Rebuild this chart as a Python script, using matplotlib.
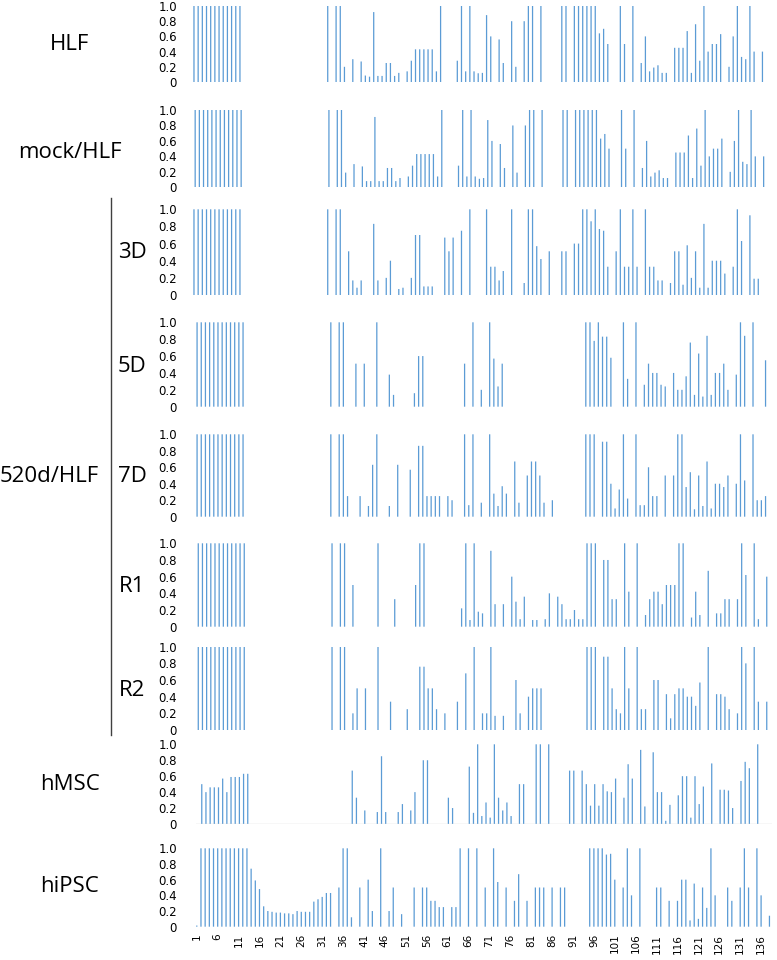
import matplotlib
matplotlib.use("Agg")
import matplotlib.pyplot as plt

# ---- data: bar positions (1..138) and heights, one pair of lists per sample ----
first_block = list(range(2, 14))

hlf_pos = first_block + [34, 36, 37, 38, 40, 42, 43, 44, 45, 46, 47, 48, 49, 50, 51, 53, 54, 55, 56, 57, 58, 59, 60, 61,
                         65, 66, 67, 68, 69, 70, 71, 72, 73, 75, 76, 78, 79, 81, 82, 83, 85, 90, 91, 93, 94, 95, 96, 97,
                         98, 99, 100, 101, 104, 105, 107, 109, 110, 111, 112, 113, 114, 115, 117, 118, 119, 120, 121,
                         122, 123, 124, 125, 126, 127, 128, 130, 131, 132, 133, 134, 135, 136, 138]
hlf_val = [1.0] * 12 + [1.0, 1.0, 1.0, 0.2, 0.3, 0.27, 0.085, 0.07, 0.92, 0.08, 0.08, 0.25, 0.25, 0.08, 0.12, 0.14, 0.28,
                        0.43, 0.43, 0.43, 0.43, 0.43, 0.14, 1.0,
                        0.28, 1.0, 0.14, 1.0, 0.14, 0.115, 0.12, 0.88, 0.6, 0.56, 0.25, 0.8, 0.2, 0.8, 1.0, 1.0, 1.0,
                        1.0, 1.0, 1.0, 1.0, 1.0, 1.0, 1.0,
                        1.0, 0.64, 0.7, 0.5, 1.0, 0.5, 1.0, 0.25, 0.6, 0.14, 0.19, 0.22, 0.12, 0.12, 0.45, 0.45, 0.45,
                        0.67, 0.12,
                        0.76, 0.28, 1.0, 0.4, 0.5, 0.5, 0.63, 0.2, 0.6, 1.0, 0.33, 0.3, 1.0, 0.4, 0.4]

mock_pos = first_block + [34, 36, 37, 38, 40, 42, 43, 44, 45, 46, 47, 48, 49, 50, 51, 53, 54, 55, 56, 57, 58, 59, 60, 61,
                          65, 66, 67, 68, 69, 70, 71, 72, 73, 75, 76, 78, 79, 81, 82, 83, 85, 90, 91, 93, 94, 95, 96, 97,
                          98, 99, 100, 101, 104, 105, 107, 109, 110, 111, 112, 113, 114, 115, 117, 118, 119, 120, 121,
                          122, 123, 124, 125, 126, 127, 128, 130, 131, 132, 133, 134, 135, 136, 138]
mock_val = [1.0] * 12 + [1.0, 1.0, 1.0, 0.19, 0.3, 0.27, 0.08, 0.08, 0.91, 0.08, 0.08, 0.25, 0.25, 0.08, 0.12, 0.14, 0.28,
                         0.43, 0.43, 0.43, 0.43, 0.43, 0.14, 1.0,
                         0.28, 1.0, 0.14, 1.0, 0.14, 0.11, 0.12, 0.87, 0.6, 0.56, 0.25, 0.8, 0.19, 0.8, 1.0, 1.0, 1.0,
                         1.0, 1.0, 1.0, 1.0, 1.0, 1.0, 1.0,
                         1.0, 0.63, 0.69, 0.5, 1.0, 0.5, 1.0, 0.25, 0.6, 0.14, 0.19, 0.22, 0.12, 0.12, 0.45, 0.45, 0.45,
                         0.67, 0.12,
                         0.76, 0.28, 1.0, 0.4, 0.5, 0.5, 0.63, 0.2, 0.6, 1.0, 0.33, 0.3, 1.0, 0.4, 0.4]

d3_pos = first_block + [34, 36, 37, 39, 40, 41, 42, 45, 46, 48, 49, 51, 52, 54, 55, 56, 57, 58, 59, 62, 63, 64, 66, 68,
                        72, 73, 74, 75, 76, 78, 81, 82, 83, 84, 85, 87, 90, 91, 93, 94, 95, 96, 97, 98, 99, 100, 101,
                        103, 104, 105, 106, 107, 108, 110, 111, 112, 113, 114, 116, 117, 118, 119, 120, 121, 122, 123,
                        124, 125, 126, 127, 128, 129, 131, 132, 133, 135, 136, 137]
d3_val = [1.0] * 12 + [1.0, 1.0, 1.0, 0.51, 0.17, 0.085, 0.17, 0.83, 0.17, 0.2, 0.4, 0.07, 0.085, 0.2, 0.7, 0.7, 0.1, 0.1,
                       0.1, 0.67, 0.51, 0.67, 0.75, 1.0,
                       1.0, 0.33, 0.33, 0.17, 0.28, 1.0, 0.14, 1.0, 1.0, 0.57, 0.42, 0.51, 0.51, 0.51, 0.6, 0.6, 1.0,
                       1.0, 0.86, 1.0, 0.77, 0.75, 0.33,
                       0.51, 1.0, 0.33, 0.33, 1.0, 0.33, 1.0, 0.33, 0.33, 0.17, 0.17, 0.14, 0.51, 0.51, 0.12, 0.58,
                       0.2, 0.51, 0.085,
                       0.83, 0.085, 0.4, 0.4, 0.4, 0.25, 0.33, 1.0, 0.63, 0.93, 0.19, 0.19]

d5_pos = first_block + [34, 36, 37, 40, 42, 45, 48, 49, 54, 55, 56, 66, 68, 70, 72, 73, 74, 75, 95, 96, 97, 98, 99, 100,
                        101, 104, 105, 107, 109, 110, 111, 112, 113, 114, 116, 117, 118, 119, 120, 121, 122, 123, 124,
                        125, 126, 127, 128, 129, 131, 132, 133, 135, 138]
d5_val = [1.0] * 12 + [1.0, 1.0, 1.0, 0.51, 0.51, 1.0, 0.38, 0.14, 0.16, 0.6, 0.6, 0.51, 1.0, 0.2, 1.0, 0.57, 0.24, 0.51,
                       1.0, 1.0, 0.78, 1.0, 0.83, 0.83,
                       0.58, 1.0, 0.33, 1.0, 0.26, 0.51, 0.4, 0.4, 0.26, 0.24, 0.4, 0.2, 0.2, 0.36, 0.76, 0.14, 0.63,
                       0.12, 0.84,
                       0.14, 0.4, 0.4, 0.51, 0.2, 0.38, 1.0, 0.84, 1.0, 0.55]

d7_pos = first_block + [34, 36, 37, 38, 41, 43, 44, 45, 48, 50, 53, 55, 56, 57, 58, 59, 60, 62, 63, 66, 67, 68, 70, 72,
                        73, 74, 75, 76, 78, 79, 81, 82, 83, 84, 85, 87, 95, 96, 97, 99, 100, 101, 102, 103, 104, 105,
                        107, 108, 109, 110, 111, 112, 114, 116, 117, 118, 119, 120, 121, 122, 123, 124, 125, 126, 127,
                        128, 129, 131, 132, 133, 135, 136, 137, 138]
d7_val = [1.0] * 12 + [1.0, 1.0, 1.0, 0.25, 0.25, 0.13, 0.63, 1.0, 0.13, 0.63, 0.57, 0.86, 0.86, 0.25, 0.25, 0.25, 0.25,
                       0.25, 0.2, 1.0, 0.14, 1.0, 0.17, 1.0,
                       0.28, 0.13, 0.37, 0.28, 0.67, 0.17, 0.5, 0.67, 0.67, 0.5, 0.17, 0.2, 1.0, 1.0, 1.0, 0.91, 0.91,
                       0.4, 0.1, 0.33, 1.0, 0.22,
                       1.0, 0.14, 0.14, 0.6, 0.25, 0.25, 0.5, 0.5, 1.0, 1.0, 0.36, 0.54, 0.09, 0.5, 0.13, 0.67, 0.1,
                       0.4, 0.4,
                       0.36, 0.5, 0.4, 1.0, 0.44, 1.0, 0.2, 0.2, 0.25]

r1_pos = first_block + [34, 36, 37, 39, 45, 49, 54, 55, 56, 65, 66, 67, 68, 69, 70, 72, 73, 75, 77, 78, 79, 80, 82, 83,
                        85, 86, 88, 89, 90, 91, 92, 93, 94, 95, 96, 97, 99, 100, 101, 102, 104, 105, 107, 109, 110, 111,
                        112, 113, 114, 115, 116, 117, 118, 120, 121, 122, 124, 126, 127, 128, 129, 131, 132, 133, 135,
                        136, 138]
r1_val = [1.0] * 12 + [1.0, 1.0, 1.0, 0.5, 1.0, 0.33, 0.5, 1.0, 1.0, 0.22, 1.0, 0.08, 1.0, 0.18, 0.16, 0.91, 0.27, 0.27,
                       0.6, 0.3, 0.09, 0.36, 0.08, 0.08,
                       0.09, 0.4, 0.36, 0.27, 0.09, 0.09, 0.2, 0.09, 0.09, 1.0, 1.0, 1.0, 0.8, 0.8, 0.33, 0.33, 1.0,
                       0.42, 1.0, 0.14, 0.33, 0.42,
                       0.42, 0.27, 0.5, 0.5, 0.5, 1.0, 1.0, 0.11, 0.42, 0.14, 0.67, 0.16, 0.16, 0.33, 0.33, 0.33, 1.0,
                       0.62, 1.0,
                       0.09, 0.6]

r2_pos = first_block + [34, 36, 37, 39, 40, 42, 45, 48, 52, 55, 56, 57, 58, 59, 61, 64, 66, 68, 70, 71, 72, 73, 75, 78,
                        79, 81, 82, 83, 84, 95, 96, 97, 99, 100, 101, 102, 103, 104, 105, 107, 108, 109, 111, 112, 114,
                        115, 116, 117, 118, 119, 120, 121, 122, 124, 126, 127, 128, 129, 131, 132, 133, 135, 136, 138]
r2_val = [1.0] * 12 + [1.0, 1.0, 1.0, 0.2, 0.5, 0.5, 1.0, 0.34, 0.25, 0.76, 0.76, 0.5, 0.5, 0.25, 0.2, 0.34, 0.68, 1.0,
                       0.2, 0.2, 1.0, 0.17, 0.17, 0.6,
                       0.2, 0.4, 0.5, 0.5, 0.5, 1.0, 1.0, 1.0, 0.88, 0.88, 0.5, 0.25, 0.2, 1.0, 0.5, 1.0, 0.25, 0.25,
                       0.6, 0.6, 0.43,
                       0.14, 0.43, 0.5, 0.5, 0.4, 0.4, 0.29, 0.57, 1.0, 0.43, 0.43, 0.4, 0.25, 0.2, 1.0, 0.8, 1.0,
                       0.34, 0.34]

hmsc_pos = first_block + [38, 39, 41, 44, 45, 46, 49, 50, 52, 53, 55, 56, 61, 62, 66, 67, 68, 69, 70, 71, 72, 73, 74, 75,
                          76, 78, 79, 82, 83, 85, 90, 91, 93, 94, 95, 96, 97, 98, 99, 100, 101, 103, 104, 105, 107, 108,
                          110, 111, 112, 113, 114, 116, 117, 118, 119, 120, 121, 122, 124, 126, 127, 128, 129, 131, 132,
                          133, 135]
hmsc_val = [0.5, 0.4, 0.46, 0.46, 0.46, 0.57, 0.4, 0.59, 0.59, 0.59, 0.63, 0.63,
            0.67, 0.33, 0.17, 0.15, 0.85, 0.15, 0.15, 0.25, 0.17, 0.4, 0.8, 0.8, 0.33, 0.2, 0.72, 0.14, 1.0, 0.1,
            0.27, 0.08, 1.0, 0.33, 0.17, 0.27,
            0.1, 0.5, 0.5, 1.0, 1.0, 1.0, 0.67, 0.67, 0.67, 0.5, 0.23, 0.5, 0.23, 0.5, 0.41, 0.4, 0.57, 0.33, 0.75,
            0.57, 0.93, 0.22,
            0.9, 0.4, 0.4, 0.04, 0.24, 0.36, 0.6, 0.6, 0.08, 0.6, 0.25, 0.47, 0.76, 0.43, 0.43, 0.42, 0.2, 0.54, 0.78,
            0.7, 1.0]

hipsc_pos = [1] + first_block + [14, 15, 16, 17, 18, 19, 20, 21, 22, 23, 24, 25, 26, 27, 28, 29, 30, 31, 32, 33, 35, 36,
                                 37, 38, 40, 42, 43, 45, 47, 48, 50, 53, 55, 56, 57, 58, 59, 60, 62, 63, 64, 66, 68, 70,
                                 72, 73, 75, 77, 78, 80, 82, 83, 84, 86, 88, 89, 95, 96, 97, 98, 99, 100, 101, 103, 104,
                                 105, 107, 111, 112, 114, 116, 117, 118, 119, 120, 121, 122, 123, 124, 125, 128, 129,
                                 131, 132, 133, 135, 136, 138]
hipsc_val = [0.015] + [1.0] * 12 + [0.74, 0.59, 0.48, 0.26, 0.2, 0.19, 0.18, 0.18, 0.17, 0.17, 0.16, 0.2, 0.19, 0.19,
                                    0.19, 0.32, 0.35, 0.38, 0.43, 0.43, 0.5, 1.0,
                                    1.0, 0.12, 0.5, 0.6, 0.2, 1.0, 0.2, 0.5, 0.16, 0.5, 0.5, 0.5, 0.33, 0.33, 0.25,
                                    0.25, 0.25, 0.25, 1.0, 1.0, 1.0, 0.5,
                                    1.0, 0.57, 0.5, 0.33, 0.67, 0.33, 0.5, 0.5, 0.5, 0.5, 0.5, 0.5, 1.0, 1.0, 1.0, 1.0,
                                    0.92, 0.93, 0.6, 0.5, 1.0,
                                    0.4, 1.0, 0.5, 0.5, 0.33, 0.33, 0.6, 0.6, 0.08, 0.55, 0.1, 0.5, 0.24, 1.0, 0.4, 0.5,
                                    0.33,
                                    0.5, 1.0, 0.5, 1.0, 0.4, 0.14]

x_tick_pos = list(range(1, 137, 5))
y_ticks = [0, 0.2, 0.4, 0.6, 0.8, 1.0]
y_tick_labels = ["0", "0.2", "0.4", "0.6", "0.8", "1.0"]

# ---- layout (pixels in a 777 x 960 canvas) ----
W, H = 777, 960
BAR_COLOR = "#5b9bd5"
AX_W = 138 * 4.18
LABEL_RIGHT = 177

# (positions, values, left px, y of value 0, y of value 1)
panels = [
    (hlf_pos, hlf_val, 187.7, 82.0, 6.0),
    (mock_pos, mock_val, 188.9, 187.3, 110.0),
    (d3_pos, d3_val, 187.7, 295.0, 209.3),
    (d5_pos, d5_val, 190.8, 406.7, 322.3),
    (d7_pos, d7_val, 190.8, 516.7, 434.3),
    (r1_pos, r1_val, 192.0, 626.7, 543.3),
    (r2_pos, r2_val, 192.0, 730.0, 646.7),
    (hmsc_pos, hmsc_val, 195.5, 824.0, 744.3),
    (hipsc_pos, hipsc_val, 194.7, 926.7, 848.3),
]

plt.rcParams["font.family"] = ["DejaVu Sans"]
fig = plt.figure(figsize=(W / 100, H / 100), dpi=100)

for i, (pos, val, left, y0, y1) in enumerate(panels):
    ax = fig.add_axes([left / W, 1 - y0 / H, AX_W / W, (y0 - y1) / H])
    bars = ax.bar(pos, val, width=0.3, color=BAR_COLOR, linewidth=0)
    for b in bars:
        b.set_snap(False)
    ax.set_xlim(0.5, 138.5)
    ax.set_ylim(0, 1)
    ax.set_yticks(y_ticks)
    ax.set_yticklabels(y_tick_labels)
    ax.tick_params(axis="y", length=0, pad=(left - LABEL_RIGHT) * 0.72, labelsize=8.5)
    for s in ax.spines.values():
        s.set_visible(False)
    if i == len(panels) - 1:
        ax.set_xticks(x_tick_pos)
        ax.set_xticklabels([str(t) for t in x_tick_pos], rotation=90)
        ax.tick_params(axis="x", length=0, pad=5, labelsize=7.5)
    else:
        ax.set_xticks([])
    if i == 7:
        ax.axhline(0, color="#d9d9d9", lw=1)

# ---- row labels ----
def label(x, y, text, ha="center"):
    fig.text(x / W, 1 - y / H, text, ha=ha, va="center", fontsize=16, family="Open Sans")

label(70, 45, "HLF")
label(70, 152, "mock/HLF")
label(0, 476, "520d/HLF", ha="left")
for y, t in [(252, "3D"), (366, "5D"), (476, "7D"), (586, "R1"), (690, "R2")]:
    label(132, y, t)
label(70, 784, "hMSC")
label(70, 887, "hiPSC")

# bracket line for the 520d/HLF group
fig.add_artist(plt.Line2D([111 / W, 111 / W], [1 - 198 / H, 1 - 735 / H], color="#404040", lw=1))

fig.savefig("out.png", dpi=100)
